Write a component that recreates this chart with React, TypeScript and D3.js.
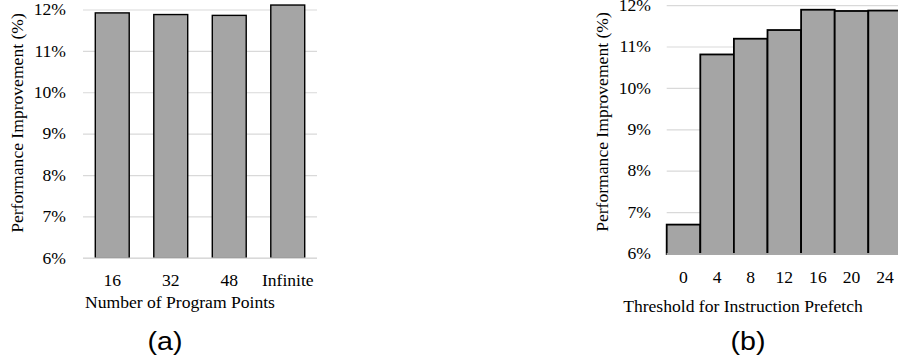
import React, { useEffect, useRef } from 'react';
import * as d3 from 'd3';

// panel (a)
const pointCounts = ['16', '32', '48', 'Infinite'];
const pointGains = [11.93, 11.89, 11.87, 12.12];

// panel (b)
const thresholds = ['0', '4', '8', '12', '16', '20', '24'];
const thresholdGains = [6.71, 10.82, 11.2, 11.41, 11.9, 11.87, 11.88];

const yTicks = [6, 7, 8, 9, 10, 11, 12];

const W = 898;
const H = 362;
const SERIF = 'Liberation Serif, DejaVu Serif, serif';
const STRETCH = 1.1;

// text slightly wider than tall, like the source figure
const label = (g, x, y, txt, opts = {}) => {
  const { anchor = 'middle', size = 16, rotate = 0, family = SERIF, baseline = 'auto' } = opts;
  g.append('g')
    .attr('transform', `translate(${x},${y}) rotate(${rotate}) scale(${STRETCH},1)`)
    .append('text')
    .attr('text-anchor', anchor)
    .attr('dominant-baseline', baseline)
    .style('font-family', family)
    .style('font-size', `${size}px`)
    .attr('fill', '#000')
    .text(txt);
};

const drawPanel = (svg, cfg) => {
  const { cats, vals, xRange, y0, y1, pInner, pOuter, barStroke, labelX, titleX, titleY, tickY, xTitle, xTitleX, xTitleY, tag, tagX } = cfg;
  const g = svg.append('g');

  const y = d3.scaleLinear().domain([6, 12]).range([y0, y1]);
  const x = d3.scaleBand().domain(cats).range(xRange).paddingInner(pInner).paddingOuter(pOuter);

  g.append('g')
    .selectAll('line')
    .data(yTicks)
    .join('line')
    .attr('x1', xRange[0])
    .attr('x2', Math.min(xRange[1], W))
    .attr('y1', d => y(d))
    .attr('y2', d => y(d))
    .attr('stroke', '#d9d9d9')
    .attr('stroke-width', 1.2);

  g.append('g')
    .selectAll('rect')
    .data(cats.map((c, i) => ({ c, v: vals[i] })))
    .join('rect')
    .attr('x', d => x(d.c))
    .attr('width', x.bandwidth())
    .attr('y', d => y(d.v))
    .attr('height', d => y(6) - y(d.v))
    .attr('fill', '#a5a5a5')
    .attr('stroke', '#000')
    .attr('stroke-width', barStroke);

  // baseline sits over the bar bottoms
  g.append('line')
    .attr('x1', xRange[0])
    .attr('x2', Math.min(xRange[1], W))
    .attr('y1', y(6))
    .attr('y2', y(6))
    .attr('stroke', '#d9d9d9')
    .attr('stroke-width', 1.4);

  yTicks.forEach(t => label(g, labelX, y(t), `${t}%`, { anchor: 'end', baseline: 'central' }));
  cats.forEach(c => label(g, x(c) + x.bandwidth() / 2, tickY, c));

  label(g, titleX, titleY, 'Performance Improvement (%)', { rotate: -90, baseline: 'central' });
  label(g, xTitleX, xTitleY, xTitle);
  label(g, tagX, 350, tag, { size: 26, family: 'Liberation Sans, Arial, sans-serif' });
};

const App = () => {
  const ref = useRef();

  useEffect(() => {
    const svg = d3.select(ref.current);
    svg.selectAll('*').remove();

    svg.append('rect').attr('width', W).attr('height', H).attr('fill', '#fff');

    drawPanel(svg, {
      cats: pointCounts,
      vals: pointGains,
      xRange: [83, 317],
      y0: 258.3,
      y1: 10,
      pInner: 0.42,
      pOuter: 0.21,
      barStroke: 1.4,
      labelX: 66,
      titleX: 18,
      titleY: 123,
      tickY: 285.5,
      xTitle: 'Number of Program Points',
      xTitleX: 180,
      xTitleY: 308,
      tag: '(a)',
      tagX: 165,
    });

    drawPanel(svg, {
      cats: thresholds,
      vals: thresholdGains,
      xRange: [666.7, 666.7 + 7 * 33.6],
      y0: 254,
      y1: 5.6,
      pInner: 0,
      pOuter: 0,
      barStroke: 1.8,
      labelX: 651,
      titleX: 602.5,
      titleY: 122,
      tickY: 283,
      xTitle: 'Threshold for Instruction Prefetch',
      xTitleX: 743,
      xTitleY: 312,
      tag: '(b)',
      tagX: 748,
    });
  }, []);

  return (
    <svg
      ref={ref}
      width={W}
      height={H}
      viewBox={`0 0 ${W} ${H}`}
      style={{ position: 'absolute', left: 0, top: 0, display: 'block' }}
    ></svg>
  );
};

export default App;
